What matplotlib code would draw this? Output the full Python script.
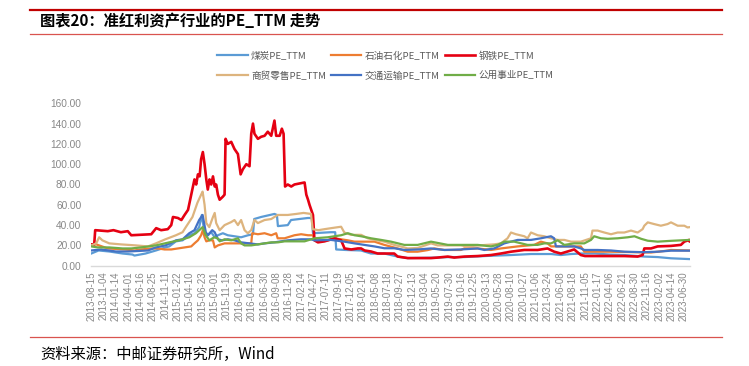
import matplotlib
matplotlib.use("Agg")
import matplotlib.pyplot as plt
from matplotlib.lines import Line2D

plt.rcParams['font.family'] = ['Noto Sans CJK SC', 'DejaVu Sans']

# x positions are trading-day indices (one tick label every 50 trading days)
tick_labels = [
    "2013-08-15", "2013-11-04", "2014-01-14", "2014-04-01", "2014-06-16", "2014-08-25",
    "2014-11-11", "2015-01-22", "2015-04-10", "2015-06-23", "2015-09-01", "2015-11-19",
    "2016-01-29", "2016-04-18", "2016-06-30", "2016-09-08", "2016-11-28", "2017-02-14",
    "2017-04-27", "2017-07-11", "2017-09-19", "2017-12-05", "2018-02-14", "2018-05-08",
    "2018-07-18", "2018-09-27", "2018-12-13", "2019-03-04", "2019-05-20", "2019-07-30",
    "2019-10-16", "2019-12-25", "2020-03-13", "2020-05-28", "2020-08-10", "2020-10-27",
    "2021-01-06", "2021-03-24", "2021-06-08", "2021-08-18", "2021-11-05", "2022-01-17",
    "2022-04-06", "2022-06-21", "2022-08-30", "2022-11-16", "2023-02-02", "2023-04-14",
    "2023-06-30",
]
tick_step = 50

series_names = ["煤炭PE_TTM", "石油石化PE_TTM", "钢铁PE_TTM",
                "商贸零售PE_TTM", "交通运输PE_TTM", "公用事业PE_TTM"]

# (trading-day index, PE_TTM)
coal = [(0, 12), (30, 15), (73, 14), (127, 12), (167, 11), (175, 10), (220, 12), (262, 15),
        (300, 18), (316, 19), (343, 24), (370, 25), (397, 30), (418, 32), (437, 38), (448, 50),
        (458, 33), (472, 30), (486, 33), (500, 28), (513, 30), (533, 32), (553, 30), (580, 29),
        (607, 28), (635, 30), (655, 31), (660, 46), (688, 48), (742, 51), (752, 50), (756, 39),
        (796, 40), (809, 45), (877, 47), (893, 47), (898, 32), (970, 33), (988, 33), (992, 16),
        (1030, 15.5), (1093, 15), (1106, 14), (1133, 12), (1187, 12), (1241, 9), (1282, 7.5),
        (1400, 8), (1450, 8.5), (1511, 8.5), (1619, 9.8), (1700, 10.5), (1781, 11.5),
        (1862, 11.5), (1902, 10.5), (1943, 11.5), (1983, 12), (2040, 12), (2100, 11),
        (2160, 10.5), (2240, 9), (2294, 8.5), (2348, 7.3), (2424, 6.5)]

petro = [(0, 20), (20, 21), (67, 17), (135, 16), (175, 15), (202, 16), (243, 17), (270, 17),
         (297, 16), (324, 16), (351, 17), (378, 18), (405, 19), (418, 22), (432, 25), (445, 30),
         (452, 35), (459, 28), (466, 24), (479, 25), (493, 25), (500, 18), (513, 20), (540, 22),
         (580, 22), (648, 22), (652, 32), (675, 31), (702, 32), (729, 30), (749, 32), (755, 27),
         (783, 27), (823, 30), (850, 31), (878, 30), (898, 30), (904, 25), (931, 24), (958, 25),
         (985, 27), (1039, 25), (1066, 23.7), (1147, 23.7), (1187, 20.5), (1241, 17),
         (1282, 13.8), (1322, 13.8), (1363, 15.4), (1389, 17), (1430, 15.5), (1497, 15.5),
         (1511, 17), (1565, 17), (1619, 15.5), (1659, 17), (1727, 19), (1794, 20.5),
         (1821, 23.7), (1848, 22), (1862, 19), (1983, 19), (1997, 13.8), (2100, 13.8),
         (2267, 13), (2321, 14.5), (2348, 15.5), (2424, 15)]

steel = [(0, 21), (12, 21), (16, 35), (67, 34), (90, 35), (120, 33), (148, 34), (162, 30),
         (243, 31), (263, 37), (283, 35), (310, 36), (324, 40), (331, 48), (351, 47), (365, 45),
         (378, 50), (392, 55), (405, 70), (418, 85), (425, 80), (432, 90), (439, 88), (445, 105),
         (452, 112), (459, 100), (466, 85), (472, 75), (479, 85), (486, 80), (493, 88), (500, 78),
         (506, 80), (513, 70), (520, 65), (533, 68), (540, 70), (544, 125), (553, 120),
         (567, 122), (580, 115), (594, 110), (605, 90), (614, 95), (628, 100), (641, 98),
         (648, 130), (655, 140), (661, 130), (675, 125), (688, 127), (702, 128), (715, 132),
         (729, 128), (742, 143), (749, 128), (763, 128), (772, 135), (779, 130), (785, 78),
         (796, 80), (810, 78), (823, 80), (864, 82), (871, 70), (878, 65), (884, 60), (891, 55),
         (898, 50), (904, 25), (918, 23), (945, 24), (972, 26), (985, 27), (999, 26), (1012, 25),
         (1026, 17), (1053, 16), (1080, 17), (1093, 17), (1107, 15), (1133, 14), (1160, 12),
         (1227, 12), (1241, 9), (1282, 7.5), (1376, 7.5), (1403, 8), (1444, 9), (1470, 8),
         (1511, 9), (1565, 9.5), (1619, 10.5), (1659, 12), (1700, 13.8), (1754, 15.5),
         (1808, 15.5), (1848, 17), (1875, 13.8), (1902, 12), (1943, 15), (1956, 16),
         (1983, 10.5), (2000, 9.5), (2159, 9.5), (2213, 9), (2233, 10.5), (2240, 17),
         (2267, 17), (2294, 19), (2348, 19.5), (2388, 20.5), (2402, 23.7), (2422, 25.4),
         (2424, 24)]

retail = [(0, 20), (20, 22), (32, 28), (45, 25), (73, 22), (120, 21), (181, 20), (230, 19),
          (262, 22), (300, 26), (343, 30), (370, 33), (383, 38), (410, 48), (430, 62), (445, 70),
          (451, 73), (459, 60), (466, 42), (478, 38), (493, 48), (500, 52), (506, 42), (520, 35),
          (540, 40), (567, 43), (580, 45), (594, 40), (607, 45), (621, 35), (634, 32), (648, 35),
          (661, 45), (675, 42), (702, 45), (729, 46), (755, 50), (796, 50), (830, 51), (860, 52),
          (890, 51), (897, 36), (920, 35), (945, 36), (972, 37), (1012, 38.4), (1025, 32.7),
          (1052, 30.4), (1093, 30.4), (1120, 27), (1147, 25.4), (1187, 23.7), (1227, 20.5),
          (1254, 18.9), (1282, 17), (1322, 17.5), (1376, 22), (1403, 20), (1497, 20),
          (1520, 19), (1600, 20.5), (1632, 21), (1659, 22), (1686, 27), (1700, 32.7),
          (1720, 31), (1754, 29), (1767, 27), (1781, 32.7), (1808, 30), (1835, 29), (1862, 27),
          (1889, 25.4), (1916, 25.4), (1943, 23.7), (1983, 23.7), (2024, 27), (2030, 34.6),
          (2051, 34.6), (2078, 32.7), (2105, 31), (2132, 32.7), (2159, 32.7), (2186, 34.6),
          (2213, 32.7), (2233, 36), (2240, 39.4), (2254, 42.7), (2280, 41), (2307, 39.4),
          (2334, 41), (2348, 42.7), (2375, 39.4), (2402, 39.4), (2415, 37.7), (2424, 38)]

transport = [(0, 15), (40, 16), (100, 14), (150, 14), (230, 15), (262, 18), (300, 20),
             (320, 22), (343, 25), (370, 26), (397, 32), (418, 35), (437, 45), (451, 50),
             (464, 33), (472, 30), (490, 35), (500, 33), (513, 26), (530, 25), (553, 26),
             (580, 25), (607, 23), (640, 22), (675, 21), (702, 22), (742, 23), (796, 25),
             (850, 26), (890, 26), (904, 25), (971, 25.4), (1025, 23.7), (1066, 22),
             (1106, 20.5), (1147, 19), (1187, 17.2), (1227, 17.2), (1268, 15.5), (1322, 16),
             (1376, 17), (1430, 15.5), (1497, 16), (1565, 17), (1592, 15.5), (1632, 17),
             (1673, 22), (1727, 25.4), (1781, 25.4), (1821, 27), (1862, 29), (1875, 27),
             (1882, 19), (1956, 19), (1983, 17), (1997, 15.5), (2051, 15.5), (2105, 15),
             (2159, 13.8), (2240, 13.3), (2294, 13.8), (2348, 14.8), (2424, 14.8)]

utility = [(0, 19), (27, 18), (73, 18), (127, 17), (162, 17), (202, 18), (262, 20), (316, 23),
           (356, 25), (397, 28), (424, 32), (451, 38), (464, 30), (478, 25), (498, 28),
           (512, 27), (520, 24), (540, 26), (567, 25), (594, 27), (607, 22), (621, 20),
           (648, 20), (675, 21), (702, 22), (729, 23), (756, 23), (783, 24), (864, 24),
           (904, 27), (958, 28), (985, 29), (1012, 30), (1039, 32), (1066, 30), (1093, 29),
           (1133, 27), (1174, 25.4), (1214, 23.7), (1268, 20.5), (1322, 20.5), (1376, 23.7),
           (1444, 20.5), (1511, 20.5), (1565, 20.5), (1619, 19), (1646, 20.5), (1673, 23.7),
           (1713, 23.7), (1767, 20.5), (1808, 20.5), (1835, 22), (1862, 22), (1889, 25),
           (1916, 20.5), (1956, 22), (1997, 22), (2024, 25.4), (2037, 29), (2064, 27),
           (2092, 26.5), (2132, 27), (2173, 28), (2200, 29), (2227, 26.5), (2254, 24.6),
           (2294, 23.7), (2348, 24.5), (2424, 25.4)]

all_series = [coal, petro, steel, retail, transport, utility]
colors = ["#5B9BD5", "#ED7D31", "#E50012", "#DDB47E", "#4472C4", "#70AD47"]
widths = [1.6, 1.6, 1.9, 1.6, 1.6, 1.6]

fig = plt.figure(figsize=(7.49, 3.66), dpi=100)
W, H = 749, 366
ax = fig.add_axes([91 / W, (H - 265.7) / H, (690 - 91) / W, (265.7 - 103.3) / H])

handles = []
for data, c, lw, name in zip(all_series, colors, widths, series_names):
    d = [p[0] for p in data]
    v = [p[1] for p in data]
    h, = ax.plot(d, v, color=c, lw=lw, solid_joinstyle='round', label=name)
    handles.append(h)

ax.set_xlim(-1, 2425)
ax.set_ylim(0, 160)
ax.set_yticks(range(0, 161, 20))
ax.set_yticklabels([f"{v:.2f}" for v in range(0, 161, 20)],
                   fontsize=7.3, color="#888888", family="Liberation Sans")
ax.set_xticks([i * tick_step for i in range(len(tick_labels))])
ax.set_xticklabels(tick_labels, rotation=90, fontsize=7, color="#888888",
                   family="Liberation Sans")
ax.tick_params(axis='both', length=0)
ax.tick_params(axis='y', pad=7)
ax.tick_params(axis='x', pad=4)
for s in ["top", "right", "left"]:
    ax.spines[s].set_visible(False)
ax.spines["bottom"].set_color("#D9D9D9")
ax.spines["bottom"].set_linewidth(1.0)

order = [0, 3, 1, 4, 2, 5]
leg = fig.legend([handles[i] for i in order], [series_names[i] for i in order],
                 loc="upper left", bbox_to_anchor=(217 / W, 1 - 51 / H), ncol=3,
                 frameon=False, fontsize=6.9, handlelength=3.2, handletextpad=0.35,
                 columnspacing=0.5, labelspacing=1.1, borderpad=0, borderaxespad=0)
for t in leg.get_texts():
    t.set_color("#595959")

# header / footer rules
fig.add_artist(Line2D([30 / W, 722 / W], [1 - 9.5 / H] * 2, color="#C00000", lw=1.6))
fig.add_artist(Line2D([30 / W, 722 / W], [1 - 33.5 / H] * 2, color="#D9534F", lw=0.9))
fig.add_artist(Line2D([30 / W, 722 / W], [1 - 337 / H] * 2, color="#D9534F", lw=0.9))

fig.text(40 / W, 1 - 21 / H, "图表20：准红利资产行业的PE_TTM 走势", fontsize=11,
         fontweight="bold", va="center", ha="left", color="#000000")
fig.text(40 / W, 1 - 354 / H, "资料来源：中邮证券研究所，Wind", fontsize=11,
         va="center", ha="left", color="#000000")

fig.savefig("out.png", dpi=100)
